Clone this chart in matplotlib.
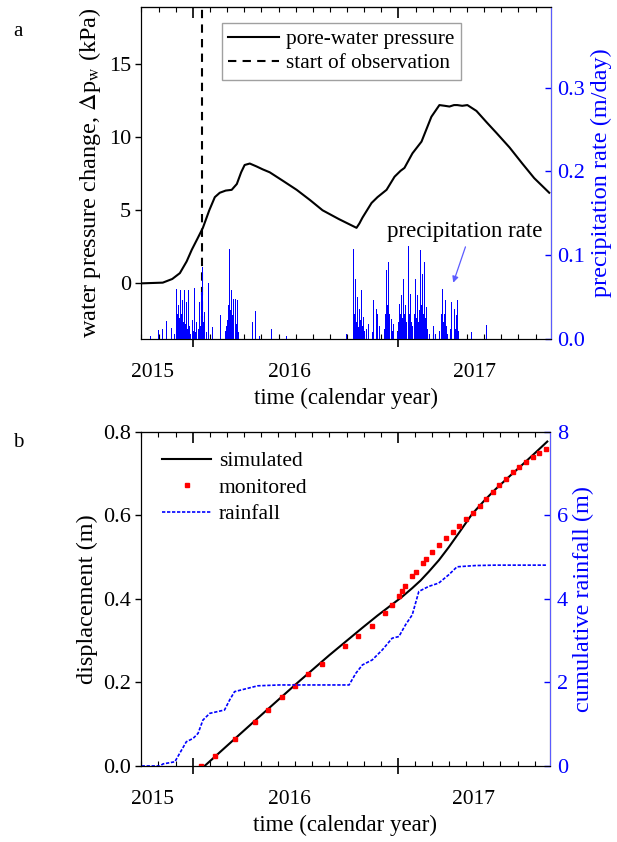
import matplotlib
matplotlib.use("Agg")
import matplotlib.pyplot as plt
from matplotlib.ticker import MultipleLocator, FixedLocator, NullFormatter
from matplotlib.transforms import blended_transform_factory

plt.rcParams['font.family'] = ['Liberation Serif', 'DejaVu Serif']
plt.rcParams['mathtext.fontset'] = 'stix'
plt.rcParams['font.size'] = 15

# time axis in decimal years
x_start, x_end = 2015.748, 2017.74
year_ticks = [2016.0, 2017.0]
year_labels = ['2015', '2016', '2017']
year_label_pos = [2015.806, 2016.471, 2017.369]
obs_start = 2016.047

# pore-water pressure change (kPa)
pwp_t = [2015.748, 2015.854, 2015.900, 2015.937, 2015.970, 2015.995, 2016.024, 2016.049,
         2016.080, 2016.107, 2016.131, 2016.160, 2016.189, 2016.214, 2016.235, 2016.252,
         2016.277, 2016.310, 2016.340, 2016.374, 2016.440, 2016.505, 2016.570, 2016.631,
         2016.710, 2016.796, 2016.810, 2016.825, 2016.869, 2016.898, 2016.942, 2016.981,
         2017.010, 2017.029, 2017.068, 2017.112, 2017.160, 2017.199, 2017.225, 2017.248,
         2017.270, 2017.286, 2017.310, 2017.335, 2017.379, 2017.430, 2017.476, 2017.540,
         2017.602, 2017.660, 2017.733]
pwp_v = [0.0, 0.05, 0.3, 0.7, 1.5, 2.3, 3.1, 3.8,
         5.0, 5.9, 6.2, 6.35, 6.4, 6.8, 7.6, 8.1,
         8.2, 8.0, 7.8, 7.6, 7.0, 6.4, 5.7, 5.0,
         4.4, 3.8, 4.1, 4.5, 5.5, 5.9, 6.4, 7.3,
         7.7, 7.9, 8.9, 9.7, 11.4, 12.2, 12.15, 12.1,
         12.2, 12.2, 12.15, 12.2, 11.8, 11.0, 10.3, 9.3,
         8.2, 7.2, 6.2]

# daily precipitation rate (m/day)
rain_t = [2015.794, 2015.832, 2015.851, 2015.872, 2015.896, 2015.912, 2015.921, 2015.926,
          2015.932, 2015.936, 2015.940, 2015.945, 2015.950, 2015.955, 2015.961, 2015.965,
          2015.969, 2015.973, 2015.977, 2015.981, 2015.985, 2015.990, 2016.000, 2016.005,
          2016.010, 2016.014, 2016.018, 2016.026, 2016.030, 2016.034, 2016.038, 2016.042,
          2016.047, 2016.054, 2016.058, 2016.066, 2016.078, 2016.094, 2016.134, 2016.158,
          2016.163, 2016.168, 2016.172, 2016.176, 2016.180, 2016.184, 2016.188, 2016.192,
          2016.196, 2016.200, 2016.205, 2016.209, 2016.213, 2016.217, 2016.222, 2016.249,
          2016.290, 2016.306, 2016.325, 2016.382, 2016.455, 2016.746, 2016.782, 2016.786,
          2016.790, 2016.795, 2016.799, 2016.804, 2016.811, 2016.817, 2016.822, 2016.826,
          2016.830, 2016.836, 2016.843, 2016.856, 2016.872, 2016.876, 2016.880, 2016.886,
          2016.892, 2016.896, 2016.900, 2016.908, 2016.930, 2016.936, 2016.940, 2016.945,
          2016.949, 2016.953, 2016.958, 2016.964, 2016.970, 2016.976, 2016.995, 2017.000,
          2017.005, 2017.009, 2017.013, 2017.018, 2017.024, 2017.029, 2017.034, 2017.040,
          2017.047, 2017.052, 2017.057, 2017.064, 2017.070, 2017.076, 2017.080, 2017.083,
          2017.088, 2017.092, 2017.097, 2017.101, 2017.105, 2017.110, 2017.115, 2017.120,
          2017.125, 2017.130, 2017.134, 2017.140, 2017.150, 2017.170, 2017.180, 2017.200,
          2017.207, 2017.211, 2017.215, 2017.220, 2017.224, 2017.228, 2017.233, 2017.239,
          2017.255, 2017.259, 2017.265, 2017.272, 2017.278, 2017.283, 2017.288, 2017.293,
          2017.304, 2017.353, 2017.429]
rain_q = [0.004, 0.011, 0.012, 0.021, 0.013, 0.006, 0.059, 0.030,
          0.040, 0.025, 0.058, 0.030, 0.046, 0.020, 0.058, 0.018,
          0.044, 0.012, 0.058, 0.010, 0.016, 0.006, 0.022, 0.010,
          0.061, 0.008, 0.020, 0.012, 0.024, 0.044, 0.015, 0.056,
          0.086, 0.020, 0.032, 0.008, 0.067, 0.014, 0.029, 0.010,
          0.016, 0.022, 0.040, 0.030, 0.107, 0.035, 0.058, 0.028,
          0.048, 0.020, 0.030, 0.048, 0.018, 0.046, 0.008, 0.003,
          0.020, 0.033, 0.003, 0.012, 0.004, 0.006, 0.107, 0.030,
          0.072, 0.020, 0.050, 0.014, 0.036, 0.022, 0.058, 0.015,
          0.026, 0.010, 0.012, 0.018, 0.008, 0.020, 0.046, 0.024,
          0.036, 0.015, 0.030, 0.016, 0.012, 0.030, 0.082, 0.040,
          0.025, 0.092, 0.030, 0.024, 0.010, 0.018, 0.008, 0.020,
          0.042, 0.030, 0.052, 0.025, 0.072, 0.030, 0.040, 0.020,
          0.111, 0.030, 0.054, 0.020, 0.016, 0.012, 0.030, 0.072,
          0.025, 0.053, 0.020, 0.035, 0.106, 0.040, 0.078, 0.030,
          0.092, 0.025, 0.038, 0.012, 0.006, 0.016, 0.006, 0.010,
          0.022, 0.030, 0.059, 0.020, 0.030, 0.046, 0.015, 0.006,
          0.012, 0.044, 0.015, 0.036, 0.012, 0.028, 0.047, 0.010,
          0.006, 0.008, 0.017]

# displacement: simulated curve and monitored points (m)
sim_t = [2016.058, 2016.180, 2016.341, 2016.503, 2016.665, 2016.827, 2016.900, 2016.972,
         2017.020, 2017.070, 2017.110, 2017.150, 2017.200, 2017.248, 2017.300, 2017.361,
         2017.420, 2017.474, 2017.540, 2017.603, 2017.665, 2017.728]
sim_d = [0.0, 0.054, 0.125, 0.196, 0.265, 0.331, 0.360, 0.387,
         0.405, 0.426, 0.444, 0.465, 0.493, 0.524, 0.560, 0.603,
         0.635, 0.662, 0.692, 0.720, 0.748, 0.777]
mon_t = [2016.042, 2016.110, 2016.207, 2016.303, 2016.369, 2016.434, 2016.498, 2016.563,
         2016.628, 2016.743, 2016.808, 2016.872, 2016.938, 2016.972, 2017.005, 2017.021,
         2017.037, 2017.071, 2017.086, 2017.120, 2017.136, 2017.168, 2017.201, 2017.235,
         2017.267, 2017.300, 2017.332, 2017.364, 2017.398, 2017.431, 2017.463, 2017.495,
         2017.528, 2017.560, 2017.592, 2017.625, 2017.657, 2017.689, 2017.722]
mon_d = [0.0, 0.025, 0.064, 0.105, 0.134, 0.164, 0.192, 0.220,
         0.245, 0.287, 0.311, 0.336, 0.366, 0.385, 0.407, 0.420,
         0.432, 0.454, 0.465, 0.485, 0.495, 0.513, 0.529, 0.545,
         0.560, 0.574, 0.591, 0.606, 0.623, 0.639, 0.656, 0.672,
         0.687, 0.703, 0.716, 0.729, 0.741, 0.750, 0.759]

# cumulative rainfall (m)
cum_t = [2015.751, 2015.840, 2015.856, 2015.913, 2015.969, 2016.002, 2016.026, 2016.050,
         2016.083, 2016.155, 2016.180, 2016.204, 2016.252, 2016.317, 2016.422, 2016.762,
         2016.795, 2016.827, 2016.875, 2016.924, 2016.972, 2017.005, 2017.037, 2017.070,
         2017.102, 2017.150, 2017.199, 2017.248, 2017.288, 2017.377, 2017.474, 2017.728]
cum_r = [0.0, 0.0, 0.05, 0.10, 0.58, 0.66, 0.78, 1.10,
         1.26, 1.34, 1.58, 1.78, 1.84, 1.92, 1.94, 1.94,
         2.22, 2.42, 2.54, 2.78, 3.06, 3.10, 3.38, 3.62,
         4.18, 4.30, 4.38, 4.58, 4.77, 4.80, 4.81, 4.81]

BLUE = '#0000ff'
SPINE_BLUE = '#5b5bff'
TICK_FS = 16
LABEL_FS = 17.5


def time_axis(ax):
    ax.set_xlim(x_start, x_end)
    ax.xaxis.set_major_locator(FixedLocator(year_ticks))
    ax.xaxis.set_minor_locator(MultipleLocator(1 / 12))
    ax.xaxis.set_major_formatter(NullFormatter())
    ax.tick_params(axis='x', which='major', direction='inout', length=11, width=1.2)
    ax.tick_params(axis='x', which='minor', direction='in', length=3.5, width=0.8)
    top = ax.secondary_xaxis('top')
    top.xaxis.set_major_locator(FixedLocator(year_ticks))
    top.xaxis.set_minor_locator(MultipleLocator(1 / 12))
    top.xaxis.set_major_formatter(NullFormatter())
    top.tick_params(axis='x', which='major', direction='in', length=8, width=1.2)
    top.tick_params(axis='x', which='minor', direction='in', length=3.5, width=0.8)
    tr = blended_transform_factory(ax.transData, ax.transAxes)
    for pos, lab in zip(year_label_pos, year_labels):
        ax.annotate(lab, xy=(pos, 0), xycoords=tr, xytext=(0, -24),
                    textcoords='offset points', ha='center', va='center', fontsize=15.5)
    ax.text(0.5, -0.178, 'time (calendar year)', transform=ax.transAxes,
            ha='center', va='center', fontsize=16.5)


fig = plt.figure(figsize=(6.17, 8.42), dpi=100)
ax1 = fig.add_axes([0.2285, 0.5975, 0.664, 0.394])
ax2 = fig.add_axes([0.2285, 0.0903, 0.6625, 0.3967])

# ---- panel a: pore-water pressure and precipitation ----
ax1.plot(pwp_t, pwp_v, color='black', lw=1.5, label='pore-water pressure')
ax1.axvline(obs_start, color='black', lw=1.5, ls=(0, (4, 3)), label='start of observation')
ax1.set_ylim(-3.8, 18.9)
ax1.set_yticks([0, 5, 10, 15])
ax1.tick_params(axis='y', direction='out', length=4, width=1, pad=3, labelsize=TICK_FS)
ax1.set_ylabel(r'water pressure change, $\Delta$p$_\mathrm{w}$ (kPa)', fontsize=LABEL_FS,
               labelpad=4)
time_axis(ax1)
leg = ax1.legend(loc='upper left', bbox_to_anchor=(0.198, 0.952), fontsize=15.3,
                 frameon=True, fancybox=False, edgecolor='#888888', handlelength=2.4,
                 handletextpad=0.3, borderpad=0.3, labelspacing=0.2, borderaxespad=0)
leg.get_frame().set_linewidth(1.0)

ax1r = ax1.twinx()
ax1r.bar(rain_t, rain_q, width=0.0045, color=BLUE, linewidth=0)
ax1r.set_ylim(0, 0.396)
ax1r.set_yticks([0.0, 0.1, 0.2, 0.3])
ax1r.set_yticklabels(['0.0', '0.1', '0.2', '0.3'])
ax1r.tick_params(axis='y', direction='in', length=4, width=1, pad=5, labelsize=TICK_FS,
                 colors=BLUE)
ax1r.spines['right'].set_color(SPINE_BLUE)
ax1r.set_ylabel('precipitation rate (m/day)', color=BLUE, fontsize=LABEL_FS, labelpad=4)
ax1r.text(2017.32, 0.128, 'precipitation rate', ha='center', va='center', fontsize=16.5)
ax1r.annotate('', xy=(2017.262, 0.064), xytext=(2017.330, 0.113),
              arrowprops=dict(arrowstyle='-|>', color=SPINE_BLUE, lw=0.9,
                              mutation_scale=9))

# ---- panel b: displacement and cumulative rainfall ----
ax2.plot(sim_t, sim_d, color='black', lw=1.5, label='simulated', zorder=3)
ax2.plot(mon_t, mon_d, ls='none', marker='s', ms=3.3, color='#ff0000',
         label='monitored', zorder=4)
ax2.set_ylim(0, 0.8)
ax2.set_yticks([0.0, 0.2, 0.4, 0.6, 0.8])
ax2.set_yticklabels(['0.0', '0.2', '0.4', '0.6', '0.8'])
ax2.tick_params(axis='y', direction='out', length=4, width=1, pad=3, labelsize=TICK_FS)
ax2.set_ylabel('displacement (m)', fontsize=LABEL_FS, labelpad=4)
time_axis(ax2)

ax2r = ax2.twinx()
rain_line, = ax2r.plot(cum_t, cum_r, color=BLUE, lw=1.2, ls=(0, (2, 1)), label='rainfall')
ax2r.set_ylim(0, 8)
ax2r.set_yticks([0, 2, 4, 6, 8])
ax2r.tick_params(axis='y', direction='in', length=4, width=1, pad=5, labelsize=TICK_FS,
                 colors=BLUE)
ax2r.spines['right'].set_color(SPINE_BLUE)
ax2r.set_ylabel('cumulative rainfall (m)', color=BLUE, fontsize=LABEL_FS, labelpad=4)

handles, labels = ax2.get_legend_handles_labels()
ax2.legend(handles + [rain_line], labels + ['rainfall'], loc='upper left',
           bbox_to_anchor=(0.03, 0.968), frameon=False, fontsize=15.5,
           handlelength=2.3, handletextpad=0.35, labelspacing=0.3, borderaxespad=0)

fig.text(0.029, 0.962, 'a', fontsize=15, ha='center', va='center')
fig.text(0.029, 0.475, 'b', fontsize=15, ha='center', va='center')

fig.savefig('out.png', dpi=100)
